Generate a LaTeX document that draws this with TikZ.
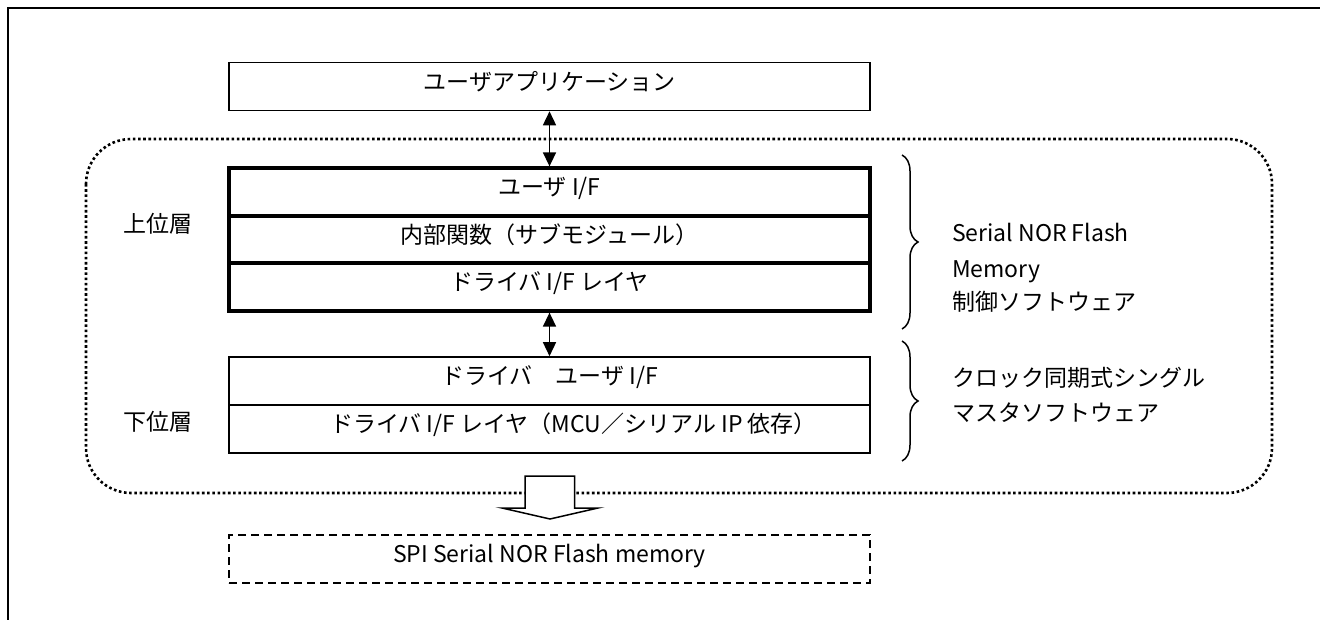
\documentclass[tikz,border=0pt]{standalone}
\usepackage{fontspec}
\setmainfont{Noto Sans CJK JP}
\usetikzlibrary{arrows.meta,decorations.pathreplacing}
\begin{document}
\begin{tikzpicture}[x=1pt,y=-1pt,
  txt/.style={font=\fontsize{23pt}{27pt}\selectfont, inner sep=0pt},
  box/.style={txt, draw, line width=1.6pt, minimum width=641pt, minimum height=48pt, text height=0.88em, text depth=0.12em},
  thickbox/.style={box, line width=3.6pt, minimum height=47.67pt},
  dashbox/.style={box, line width=1.5pt, dash pattern=on 8pt off 5pt},
  link/.style={line width=1.5pt, {Triangle[length=14pt,width=13pt]}-{Triangle[length=14pt,width=13pt]}},
  bracestyle/.style={line width=1.5pt, decorate, decoration={brace, amplitude=16pt, aspect=0.5}},
  dotframe/.style={line width=2.6pt, dash pattern=on 2.6pt off 2.6pt, rounded corners=45pt},
  hollow/.style={draw, fill=white, line width=1.5pt, line join=miter},
  lbl/.style={txt, text height=0.88em, text depth=0.12em},
  frame/.style={line width=2pt}
]
\useasboundingbox (0,0) rectangle (1320,620);
% partial outer frame
\coordinate (fa) at (1320,8);
\coordinate (fb) at (8,8);
\coordinate (fc) at (8,620);
\draw[frame] (fa) -- (fb) -- (fc);

% dotted region
\draw[dotframe] (86,139) rectangle (1272,493);

% boxes
\node[box] (app) at (549.5,86.5) {ユーザアプリケーション};
\node[thickbox] (ui) at (549.5,192) {ユーザ I/F};
\node[thickbox] (inner) at (549.5,239.5) {内部関数（サブモジュール）};
\node[thickbox] (drvif) at (549.5,287) {ドライバ I/F レイヤ};
\node[box] (dui) at (549.5,381) {ドライバ　ユーザ I/F};
\node[box] (dlayer) at (549.5,429) {\hspace*{48pt}ドライバ I/F レイヤ（MCU／シリアル IP 依存）};
\node[dashbox] (spi) at (549.5,559) {SPI Serial NOR Flash memory};

% connectors
\draw[link] (app.south) -- (ui.north);
\draw[link] (drvif.south) -- (dui.north);

% hollow arrow
\draw[hollow] (525,476) -- (574.5,476) -- (574.5,508) -- (598,508) -- (550,519) -- (502,508) -- (525,508) -- cycle;

% left labels
\node[lbl] (upper) at (158,229) {上位層};
\node[lbl] (lower) at (158,427) {下位層};

% braces
\coordinate (b1t) at (902,155);
\coordinate (b1b) at (902,329);
\coordinate (b2t) at (902,341);
\coordinate (b2b) at (902,461);
\draw[bracestyle] (b1t) -- (b1b);
\draw[bracestyle] (b2t) -- (b2b);

% right labels
\node[txt, anchor=base west] (r1) at (952,242) {Serial NOR Flash};
\node[txt, anchor=base west] (r2) at (952,278) {Memory};
\node[txt, anchor=base west] (r3) at (952,311) {制御ソフトウェア};
\node[txt, anchor=base west] (r4) at (952,386) {クロック同期式シングル};
\node[txt, anchor=base west] (r5) at (952,421) {マスタソフトウェア};
\end{tikzpicture}
\end{document}
